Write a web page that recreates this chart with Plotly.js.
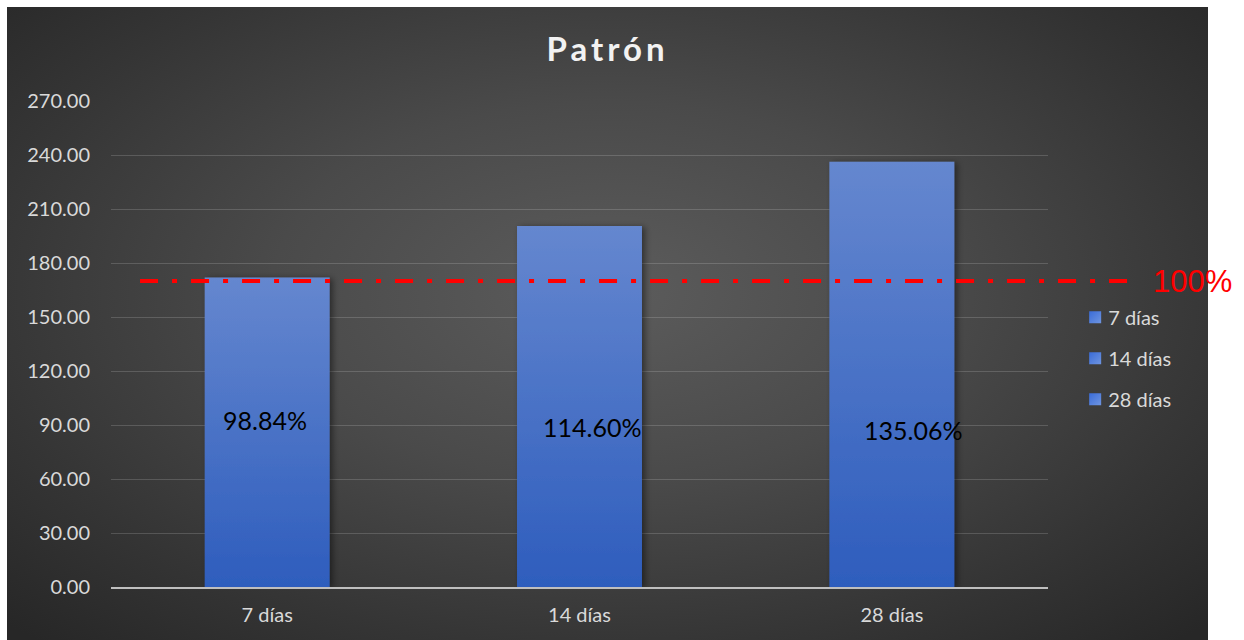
<!DOCTYPE html>
<html>
<head>
<meta charset="utf-8">
<script src="https://cdn.plot.ly/plotly-3.0.1.min.js"></script>
<style>
  html, body { margin: 0; padding: 0; background: #ffffff; }
  #wrap { position: relative; width: 1244px; height: 640px; }
  #bg { position: absolute; left: 7px; top: 7px; width: 1201px; height: 633px;
        background: radial-gradient(ellipse 70% 75% at 50% 45%, #5c5c5c 0%, #4a4a4a 40%, #353535 75%, #272727 100%); }
  #chart { position: absolute; left: 0; top: 0; width: 1244px; height: 640px; }
</style>
</head>
<body>
<div id="wrap">
  <div id="bg"></div>
  <div id="chart"></div>
</div>
<script>
const categories = ['7 días', '14 días', '28 días'];
const values = [172.0, 200.6, 236.2];
const labels = ['98.84%', '114.60%', '135.06%'];
const referenceValue = 170;
const referenceLabel = '100%';
const yTicks = [0, 30, 60, 90, 120, 150, 180, 210, 240, 270];

const FONT = 'Lato, "Open Sans", sans-serif';

const traces = categories.map((c, i) => ({
  type: 'bar',
  x: [c],
  y: [values[i]],
  name: c,
  legendgroup: 'g' + i,
  width: 0.4,
  marker: { color: '#4a74cc', line: { width: 0 } },
  hoverinfo: 'x+y'
}));

const labelY = [93, 89, 87];
const labelShift = [-2, 12, 21];
const annotations = categories.map((c, i) => ({
  x: c, y: labelY[i], xref: 'x', yref: 'y', xshift: labelShift[i],
  text: labels[i], showarrow: false,
  font: { family: FONT, size: 25, color: '#000000' }
}));
annotations.push({
  x: 1.11, xref: 'paper', y: referenceValue, yref: 'y',
  xanchor: 'left', yanchor: 'middle',
  text: referenceLabel, showarrow: false,
  font: { family: '"Liberation Sans", Arial, sans-serif', size: 31, color: '#ff0000' }
});

const layout = {
  width: 1244, height: 640,
  paper_bgcolor: 'rgba(0,0,0,0)',
  plot_bgcolor: 'rgba(0,0,0,0)',
  margin: { l: 111, r: 196, t: 101, b: 53 },
  title: {
    text: '<b>Patrón</b>',
    x: 0.53, xref: 'paper', xanchor: 'center',
    y: 0.922, yref: 'container', yanchor: 'middle',
    font: { family: FONT, size: 33, color: '#f2f2f2' }
  },
  barmode: 'overlay',
  xaxis: {
    type: 'category',
    categoryorder: 'array', categoryarray: categories,
    showgrid: false,
    showline: true, linecolor: '#bfbfbf', linewidth: 2,
    ticks: '',
    ticklabelstandoff: 9,
    tickfont: { family: FONT, size: 20, color: '#d9d9d9' },
    zeroline: false
  },
  yaxis: {
    range: [0, 270],
    tickvals: yTicks,
    tickformat: '.2f',
    showgrid: true, gridcolor: 'rgba(255,255,255,0.16)', gridwidth: 1,
    zeroline: false,
    showline: false,
    ticks: '',
    ticklabelstandoff: 20,
    tickfont: { family: FONT, size: 20, color: '#d9d9d9' }
  },
  showlegend: true,
  legend: {
    x: 1.029, xanchor: 'left',
    y: 0.595, yanchor: 'top',
    bgcolor: 'rgba(0,0,0,0)',
    traceorder: 'grouped',
    tracegroupgap: 12,
    itemwidth: 30,
    font: { family: FONT, size: 20, color: '#d9d9d9' }
  },
  shapes: [{
    type: 'line', xref: 'paper', yref: 'y',
    x0: 0.031, x1: 1.093, y0: referenceValue, y1: referenceValue,
    line: { color: '#ff0000', width: 4, dash: '18px,14px,5px,14px' }
  }],
  annotations: annotations
};

Plotly.newPlot('chart', traces, layout, { displayModeBar: false, staticPlot: true }).then(gd => {
  const svgNS = 'http://www.w3.org/2000/svg';
  const svg = gd.querySelector('svg.main-svg');
  const defs = document.createElementNS(svgNS, 'defs');
  defs.innerHTML =
    '<linearGradient id="barGrad" x1="0" y1="0" x2="0" y2="1">' +
    '<stop offset="0" stop-color="#6587cf"/>' +
    '<stop offset="1" stop-color="#2e5dbd"/></linearGradient>' +
    '<linearGradient id="legGrad" x1="0" y1="0" x2="1" y2="1">' +
    '<stop offset="0" stop-color="#3a6cd8"/>' +
    '<stop offset="1" stop-color="#6f95e0"/></linearGradient>' +
    '<filter id="barShadow" x="-20%" y="-10%" width="140%" height="120%">' +
    '<feDropShadow dx="3" dy="1" stdDeviation="3" flood-color="#000" flood-opacity="0.45"/></filter>';
  svg.insertBefore(defs, svg.firstChild);
  gd.querySelectorAll('.barlayer .point path').forEach(p => {
    p.style.fill = 'url(#barGrad)';
    p.setAttribute('filter', 'url(#barShadow)');
  });
  gd.querySelectorAll('.legend .legendpoints path').forEach(p => {
    p.style.fill = 'url(#legGrad)';
  });
  gd.querySelectorAll('.legend .legendtext').forEach(tx => {
    const x = parseFloat(tx.getAttribute('x')) || 40;
    tx.setAttribute('x', x - 7);
  });
  const t = gd.querySelector('.gtitle');
  if (t) t.setAttribute('letter-spacing', '4px');
});
</script>
</body>
</html>
